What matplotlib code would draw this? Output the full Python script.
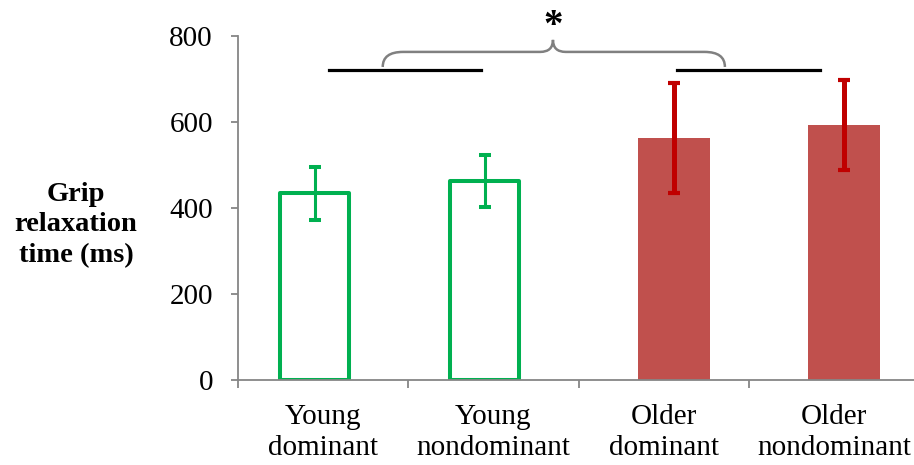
import numpy as np
import matplotlib.pyplot as plt
from matplotlib.path import Path
from matplotlib.patches import PathPatch

plt.rcParams['font.family'] = ['Liberation Serif', 'DejaVu Serif']

# Group means and error bar half-widths (ms)
groups = ['Young\ndominant', 'Young\nnondominant', 'Older\ndominant', 'Older\nnondominant']
young_means = [434, 463]
young_err = [61, 61]
older_means = [562, 593]
older_err = [128, 104]

green = '#00B050'
red_fill = '#C0504D'
red_err = '#C00000'

fig = plt.figure(figsize=(9.14, 4.65), dpi=100)
ax = fig.add_axes([238 / 914, 1 - 380 / 465, 681 / 914, 344 / 465])

x = np.arange(len(groups))
xy = x[:2] - 0.05
xo = x[2:] + 0.06

# open green bars for the young group
ax.bar(xy, young_means, width=0.405, facecolor='white', edgecolor=green,
       linewidth=2.9, joinstyle='round', zorder=2)
ax.errorbar(xy, young_means, yerr=young_err, fmt='none', ecolor=green,
            elinewidth=2.2, capsize=4.3, capthick=2.9, zorder=3)

# filled red bars for the older group
ax.bar(xo, older_means, width=0.425, color=red_fill, zorder=2)
ax.errorbar(xo, older_means, yerr=older_err, fmt='none', ecolor=red_err,
            elinewidth=3.6, capsize=4.3, capthick=3.0, zorder=3)

# group lines and the brace linking them
line_y = 721
ax.plot([0.034, 0.927], [line_y, line_y], color='black', lw=2.3, clip_on=False)
ax.plot([2.078, 2.918], [line_y, line_y], color='black', lw=2.3, clip_on=False)

x0, xm, x1 = 0.35, 1.35, 2.36
yb, yh, ypk = 728, 763, 791
rx, rm = 0.12, 0.075
verts = [(x0, yb), (x0, yh), (x0 + rx, yh),
         (xm - rm, yh), (xm, yh), (xm, ypk),
         (xm, yh), (xm + rm, yh),
         (x1 - rx, yh), (x1, yh), (x1, yb)]
codes = [Path.MOVETO, Path.CURVE3, Path.CURVE3,
         Path.LINETO, Path.CURVE3, Path.CURVE3,
         Path.CURVE3, Path.CURVE3,
         Path.LINETO, Path.CURVE3, Path.CURVE3]
ax.add_patch(PathPatch(Path(verts, codes), facecolor='none', edgecolor='#808080',
                       lw=1.8, clip_on=False, zorder=4))
ax.text(xm, 822, '*', ha='center', va='center', fontsize=28,
        fontweight='bold', clip_on=False)

# axes styling
ax.set_xlim(-0.5, 3.5)
ax.set_ylim(0, 800)
ax.set_yticks([0, 200, 400, 600, 800])
ax.set_xticks(x)
ax.set_xticklabels(groups, fontsize=21, linespacing=1.25)
ax.set_xticks(np.arange(-0.5, 4, 1), minor=True)
ax.tick_params(axis='x', which='major', length=0, pad=17)
ax.tick_params(axis='x', which='minor', length=6, width=1.3, color='#868686')
ax.tick_params(axis='y', length=5, width=1.3, color='#868686', pad=13, labelsize=21)
for side in ['top', 'right']:
    ax.spines[side].set_visible(False)
for side in ['left', 'bottom']:
    ax.spines[side].set_color('#868686')
    ax.spines[side].set_linewidth(1.3)

fig.text(76 / 914, 1 - 225 / 465, 'Grip\nrelaxation\ntime (ms)', ha='center',
         va='center', fontsize=20.5, fontweight='bold', linespacing=1.3)

fig.savefig('out.png', dpi=100)
